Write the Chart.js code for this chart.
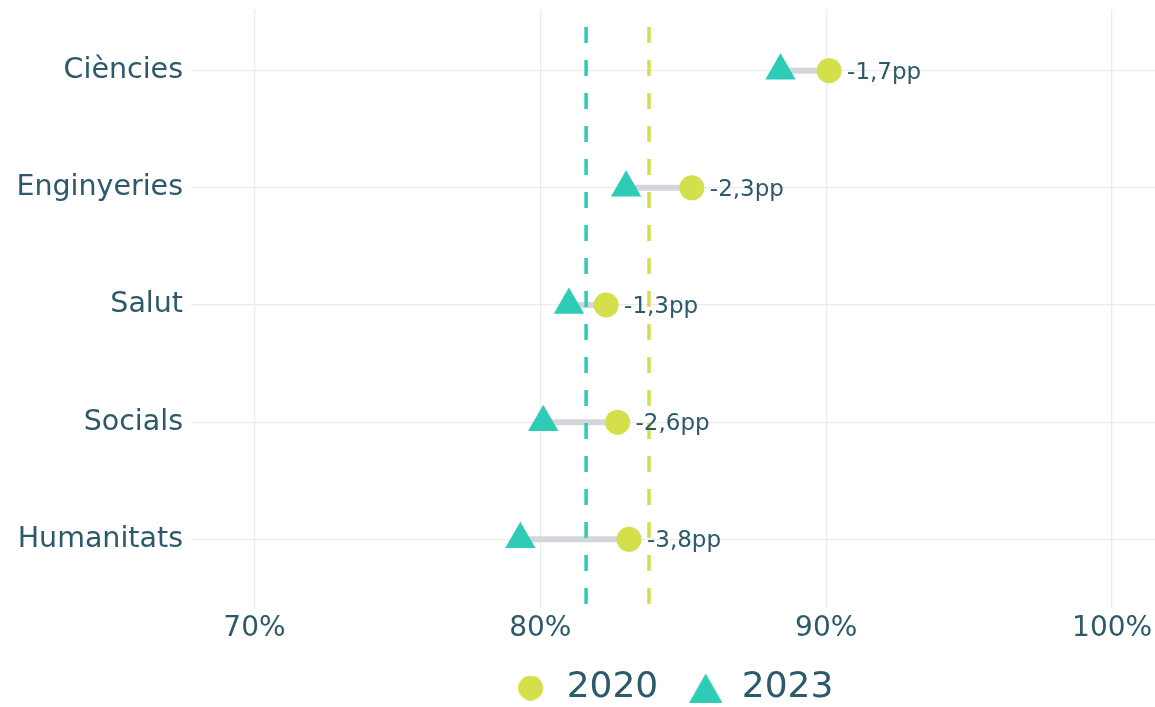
<!DOCTYPE html>
<html>
<head>
<meta charset="utf-8">
<script src="https://cdn.jsdelivr.net/npm/chart.js@4/dist/chart.umd.min.js"></script>
<style>
  html, body { margin: 0; background: #fff; }
  #wrap { width: 1155px; height: 707px; position: relative; }
</style>
</head>
<body>
<div id="wrap"><canvas id="chart"></canvas></div>
<script>
const CATEGORIES = ['Ciències', 'Enginyeries', 'Salut', 'Socials', 'Humanitats'];
const VALUES_2020 = [90.1, 85.3, 82.3, 82.7, 83.1];
const VALUES_2023 = [88.4, 83.0, 81.0, 80.1, 79.3];
const CHANGE_LABELS = ['-1,7pp', '-2,3pp', '-1,3pp', '-2,6pp', '-3,8pp'];
const AVG_2020 = 83.8;
const AVG_2023 = 81.6;
const X_TICKS = [70, 80, 90, 100];

const LIME = '#d3e04b';
const TEAL = '#2ecbb6';
const INK = '#2c5a6b';
const FONT = "'DejaVu Sans', sans-serif";

// small canvases used as legend markers (so the triangle keeps its real size)
function marker(shape, color, w, h) {
  const c = document.createElement('canvas');
  c.width = w;
  c.height = h;
  const g = c.getContext('2d');
  g.fillStyle = color;
  g.beginPath();
  if (shape === 'circle') {
    g.arc(w / 2, h / 2, w / 2, 0, Math.PI * 2);
  } else {
    g.moveTo(w / 2, 0);
    g.lineTo(w, h);
    g.lineTo(0, h);
    g.closePath();
  }
  g.fill();
  return c;
}

const connectors = CATEGORIES.map((cat, i) => ({
  type: 'line',
  data: [{ x: VALUES_2023[i], y: i + 1 }, { x: VALUES_2020[i], y: i + 1 }],
  borderColor: '#d3d7dc',
  borderWidth: 6,
  pointRadius: 0,
  order: 2,
}));

// dashed average lines, drawn over the connectors but under the points
const avgLines = {
  id: 'avgLines',
  afterDatasetDraw(chart, args) {
    if (args.index !== 2) return;
    const { ctx, chartArea, scales } = chart;
    ctx.save();
    ctx.lineWidth = 3.5;
    ctx.setLineDash([16, 17]);
    ctx.lineDashOffset = 16;
    [[AVG_2023, TEAL], [AVG_2020, LIME]].forEach(([v, col]) => {
      const x = scales.x.getPixelForValue(v);
      ctx.strokeStyle = col;
      ctx.beginPath();
      ctx.moveTo(x, chartArea.top);
      ctx.lineTo(x, chartArea.bottom);
      ctx.stroke();
    });
    ctx.restore();
  },
};

const changeLabels = {
  id: 'changeLabels',
  afterDatasetsDraw(chart) {
    const { ctx, scales } = chart;
    ctx.save();
    ctx.font = `23px ${FONT}`;
    ctx.fillStyle = INK;
    ctx.textAlign = 'left';
    ctx.textBaseline = 'middle';
    CHANGE_LABELS.forEach((txt, i) => {
      const x = scales.x.getPixelForValue(VALUES_2020[i]) + 18;
      const y = scales.y.getPixelForValue(i + 1) + 2;
      ctx.fillText(txt, x, y);
    });
    ctx.restore();
  },
};

new Chart(document.getElementById('chart'), {
  type: 'scatter',
  data: {
    datasets: [
      {
        label: '2020',
        data: VALUES_2020.map((v, i) => ({ x: v, y: i + 1 })),
        backgroundColor: LIME,
        borderWidth: 0,
        pointStyle: 'circle',
        pointRadius: 12.5,
        pointHoverRadius: 12.5,
        legendMarker: marker('circle', LIME, 25, 25),
        order: 0,
      },
      {
        label: '2023',
        data: VALUES_2023.map((v, i) => ({ x: v, y: i + 1 })),
        backgroundColor: TEAL,
        borderWidth: 0,
        pointStyle: 'triangle',
        pointRadius: 17.5,
        pointHoverRadius: 17.5,
        legendMarker: marker('triangle', TEAL, 33, 29),
        order: 1,
      },
      ...connectors,
    ],
  },
  options: {
    responsive: true,
    maintainAspectRatio: false,
    animation: false,
    layout: { autoPadding: false, padding: { top: 10, right: 0, bottom: -9, left: 0 } },
    scales: {
      x: {
        type: 'linear',
        min: 67.78,
        max: 101.5,
        afterBuildTicks: s => { s.ticks = X_TICKS.map(v => ({ value: v })); },
        afterFit: s => { s.height = 32.5; s.paddingLeft = 0; s.paddingRight = 0; },
        grid: { color: '#ebebeb', lineWidth: 1.3, drawTicks: false },
        border: { display: false },
        ticks: {
          padding: 4,
          color: INK,
          font: { family: FONT, size: 28 },
          callback: v => v + '%',
        },
      },
      y: {
        type: 'linear',
        reverse: true,
        min: 0.482,
        max: 5.586,
        afterBuildTicks: s => { s.ticks = CATEGORIES.map((c, i) => ({ value: i + 1 })); },
        afterFit: s => { s.width = 191; s.paddingTop = 0; s.paddingBottom = 0; },
        grid: { color: '#ebebeb', lineWidth: 1.3, drawTicks: false },
        border: { display: false },
        ticks: {
          padding: 8,
          color: INK,
          font: { family: FONT, size: 28.5 },
          callback: v => CATEGORIES[v - 1],
        },
      },
    },
    plugins: {
      tooltip: { enabled: false },
      legend: {
        position: 'bottom',
        fullSize: false,
        labels: {
          usePointStyle: true,
          boxWidth: 37,
          boxHeight: 34,
          padding: 29.5,
          color: INK,
          font: { family: FONT, size: 36 },
          generateLabels(chart) {
            const items = Chart.defaults.plugins.legend.labels.generateLabels(chart);
            return items
              .filter(it => chart.data.datasets[it.datasetIndex].legendMarker)
              .map(it => ({ ...it, pointStyle: chart.data.datasets[it.datasetIndex].legendMarker }));
          },
        },
      },
    },
  },
  plugins: [avgLines, changeLabels],
});
</script>
</body>
</html>
